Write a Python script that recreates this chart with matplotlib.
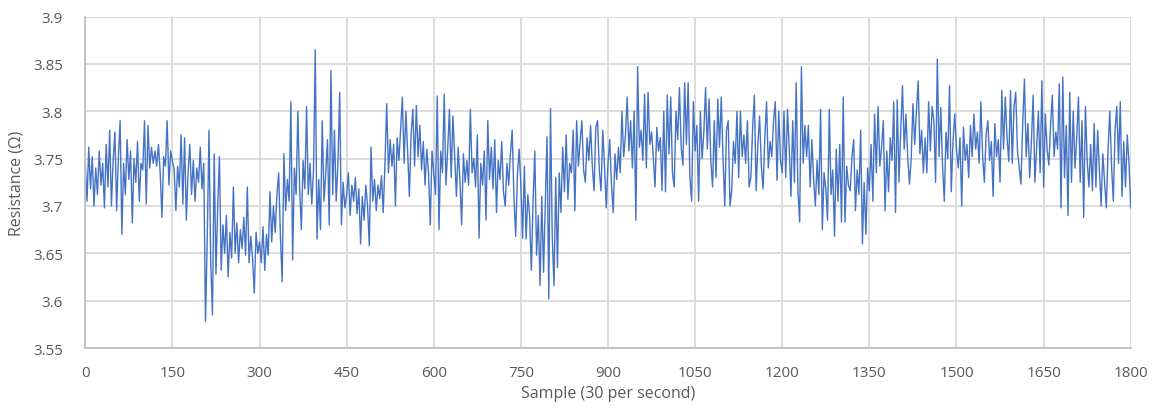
import numpy as np
import matplotlib.pyplot as plt

# resistance readings, every 3rd sample from 0 to 1800
resistance = [
    # 0 - 147
    3.745, 3.705, 3.762, 3.718, 3.752, 3.700, 3.740, 3.712, 3.758, 3.722,
    3.745, 3.698, 3.765, 3.720, 3.780, 3.700, 3.748, 3.778, 3.695, 3.752,
    3.790, 3.670, 3.745, 3.712, 3.770, 3.728, 3.758, 3.682, 3.750, 3.725,
    3.768, 3.705, 3.745, 3.738, 3.790, 3.702, 3.785, 3.740, 3.762, 3.745,
    3.758, 3.742, 3.765, 3.735, 3.688, 3.752, 3.742, 3.790, 3.722, 3.758,
    # 150 - 297
    3.748, 3.738, 3.695, 3.742, 3.720, 3.775, 3.702, 3.772, 3.685, 3.735,
    3.765, 3.712, 3.748, 3.705, 3.740, 3.725, 3.762, 3.718, 3.745, 3.578,
    3.665, 3.780, 3.640, 3.585, 3.755, 3.628, 3.700, 3.752, 3.632, 3.680,
    3.650, 3.690, 3.625, 3.672, 3.645, 3.720, 3.650, 3.682, 3.640, 3.675,
    3.655, 3.688, 3.648, 3.720, 3.640, 3.668, 3.645, 3.608, 3.672, 3.650,
    # 300 - 447
    3.662, 3.640, 3.678, 3.632, 3.670, 3.648, 3.715, 3.662, 3.700, 3.672,
    3.712, 3.735, 3.668, 3.620, 3.755, 3.695, 3.728, 3.705, 3.810, 3.643,
    3.740, 3.712, 3.800, 3.720, 3.675, 3.748, 3.718, 3.805, 3.712, 3.745,
    3.702, 3.738, 3.865, 3.665, 3.728, 3.675, 3.790, 3.705, 3.735, 3.770,
    3.680, 3.843, 3.712, 3.780, 3.705, 3.745, 3.820, 3.680, 3.725, 3.698,
    # 450 - 597
    3.712, 3.735, 3.690, 3.722, 3.705, 3.730, 3.692, 3.718, 3.660, 3.710,
    3.685, 3.722, 3.700, 3.658, 3.762, 3.705, 3.728, 3.695, 3.722, 3.708,
    3.732, 3.693, 3.745, 3.808, 3.735, 3.770, 3.742, 3.765, 3.700, 3.772,
    3.748, 3.782, 3.815, 3.745, 3.800, 3.758, 3.710, 3.775, 3.802, 3.742,
    3.806, 3.752, 3.785, 3.738, 3.768, 3.722, 3.760, 3.735, 3.680, 3.758,
    # 600 - 747
    3.735, 3.712, 3.816, 3.675, 3.758, 3.735, 3.818, 3.722, 3.760, 3.802,
    3.730, 3.795, 3.752, 3.710, 3.762, 3.728, 3.680, 3.755, 3.725, 3.748,
    3.722, 3.802, 3.735, 3.750, 3.720, 3.775, 3.666, 3.745, 3.722, 3.758,
    3.685, 3.790, 3.728, 3.762, 3.718, 3.770, 3.693, 3.748, 3.728, 3.768,
    3.715, 3.700, 3.745, 3.722, 3.755, 3.780, 3.710, 3.668, 3.732, 3.760,
    # 750 - 897
    3.722, 3.666, 3.742, 3.665, 3.712, 3.690, 3.632, 3.705, 3.758, 3.648,
    3.690, 3.616, 3.710, 3.630, 3.700, 3.773, 3.602, 3.803, 3.668, 3.616,
    3.730, 3.635, 3.735, 3.693, 3.762, 3.715, 3.775, 3.707, 3.745, 3.735,
    3.780, 3.695, 3.790, 3.742, 3.768, 3.790, 3.738, 3.725, 3.772, 3.748,
    3.785, 3.742, 3.716, 3.783, 3.790, 3.738, 3.716, 3.780, 3.742, 3.698,
    # 900 - 1047
    3.745, 3.770, 3.722, 3.693, 3.755, 3.728, 3.762, 3.735, 3.800, 3.752,
    3.775, 3.815, 3.758, 3.790, 3.740, 3.800, 3.685, 3.847, 3.762, 3.780,
    3.748, 3.818, 3.740, 3.820, 3.765, 3.778, 3.752, 3.720, 3.783, 3.758,
    3.772, 3.716, 3.800, 3.715, 3.817, 3.755, 3.815, 3.735, 3.720, 3.800,
    3.770, 3.825, 3.762, 3.743, 3.830, 3.765, 3.830, 3.730, 3.705, 3.810,
    # 1050 - 1197
    3.758, 3.785, 3.705, 3.800, 3.750, 3.778, 3.825, 3.760, 3.813, 3.748,
    3.720, 3.790, 3.730, 3.813, 3.762, 3.815, 3.752, 3.700, 3.780, 3.790,
    3.700, 3.716, 3.768, 3.745, 3.800, 3.730, 3.800, 3.752, 3.775, 3.745,
    3.790, 3.720, 3.730, 3.782, 3.817, 3.716, 3.765, 3.795, 3.742, 3.718,
    3.772, 3.810, 3.740, 3.768, 3.752, 3.790, 3.810, 3.727, 3.800, 3.748,
    # 1200 - 1347
    3.735, 3.800, 3.730, 3.802, 3.762, 3.710, 3.790, 3.725, 3.830, 3.716,
    3.683, 3.847, 3.745, 3.785, 3.752, 3.785, 3.720, 3.770, 3.728, 3.700,
    3.748, 3.712, 3.802, 3.675, 3.735, 3.718, 3.685, 3.802, 3.712, 3.738,
    3.668, 3.760, 3.705, 3.765, 3.683, 3.815, 3.683, 3.742, 3.722, 3.716,
    3.752, 3.770, 3.695, 3.738, 3.712, 3.780, 3.660, 3.725, 3.670, 3.740,
    # 1350 - 1497
    3.716, 3.765, 3.705, 3.797, 3.735, 3.805, 3.742, 3.762, 3.790, 3.695,
    3.758, 3.715, 3.772, 3.748, 3.810, 3.693, 3.812, 3.725, 3.780, 3.827,
    3.760, 3.797, 3.752, 3.723, 3.750, 3.808, 3.765, 3.800, 3.832, 3.755,
    3.780, 3.735, 3.772, 3.735, 3.810, 3.758, 3.805, 3.790, 3.725, 3.855,
    3.752, 3.804, 3.742, 3.705, 3.778, 3.750, 3.827, 3.715, 3.768, 3.797,
    # 1500 - 1647
    3.760, 3.740, 3.772, 3.700, 3.783, 3.748, 3.765, 3.730, 3.785, 3.752,
    3.797, 3.760, 3.778, 3.745, 3.810, 3.752, 3.725, 3.775, 3.790, 3.748,
    3.768, 3.710, 3.787, 3.752, 3.770, 3.725, 3.822, 3.760, 3.815, 3.772,
    3.747, 3.822, 3.745, 3.805, 3.820, 3.758, 3.740, 3.723, 3.787, 3.834,
    3.752, 3.787, 3.730, 3.768, 3.817, 3.725, 3.762, 3.800, 3.735, 3.832,
    # 1650 - 1800
    3.720, 3.797, 3.760, 3.743, 3.785, 3.817, 3.752, 3.778, 3.760, 3.829,
    3.698, 3.836, 3.730, 3.785, 3.690, 3.820, 3.725, 3.800, 3.740, 3.772,
    3.815, 3.725, 3.790, 3.688, 3.805, 3.748, 3.720, 3.765, 3.716, 3.787,
    3.720, 3.780, 3.738, 3.700, 3.755, 3.725, 3.698, 3.760, 3.800, 3.742,
    3.705, 3.780, 3.805, 3.745, 3.810, 3.710, 3.768, 3.720, 3.775, 3.745,
    3.698,
]
samples = np.arange(0, 1801, 3)

x_ticks = np.arange(0, 1801, 150)
y_ticks = [3.55, 3.6, 3.65, 3.7, 3.75, 3.8, 3.85, 3.9]
y_labels = ['3.55', '3.6', '3.65', '3.7', '3.75', '3.8', '3.85', '3.9']

plt.rcParams['font.family'] = ['Open Sans', 'DejaVu Sans']
text_grey = '#595959'

fig = plt.figure(figsize=(11.57, 4.14), dpi=100)
ax = fig.add_axes([0.0737, 0.157, 0.9036, 0.8007])

ax.plot(samples, resistance, color='#4472C4', linewidth=1.0)

ax.set_xlim(0, 1800)
ax.set_ylim(3.55, 3.9)
ax.set_xticks(x_ticks)
ax.set_yticks(y_ticks)
ax.set_yticklabels(y_labels)
ax.grid(True, color='#D9D9D9', linewidth=1.3)
ax.set_axisbelow(True)

for side in ['top', 'right']:
    ax.spines[side].set_visible(False)
for side in ['left', 'bottom']:
    ax.spines[side].set_color('#BFBFBF')
    ax.spines[side].set_linewidth(1.3)

ax.tick_params(length=0, labelsize=11, labelcolor=text_grey)
ax.tick_params(axis='y', pad=16)
ax.tick_params(axis='x', pad=12)

ax.set_xlabel('Sample (30 per second)', fontsize=11.5, color=text_grey, labelpad=4)
ax.set_ylabel('Resistance (Ω)', fontsize=11.5, color=text_grey, labelpad=6)

fig.savefig('out.png', dpi=100)
